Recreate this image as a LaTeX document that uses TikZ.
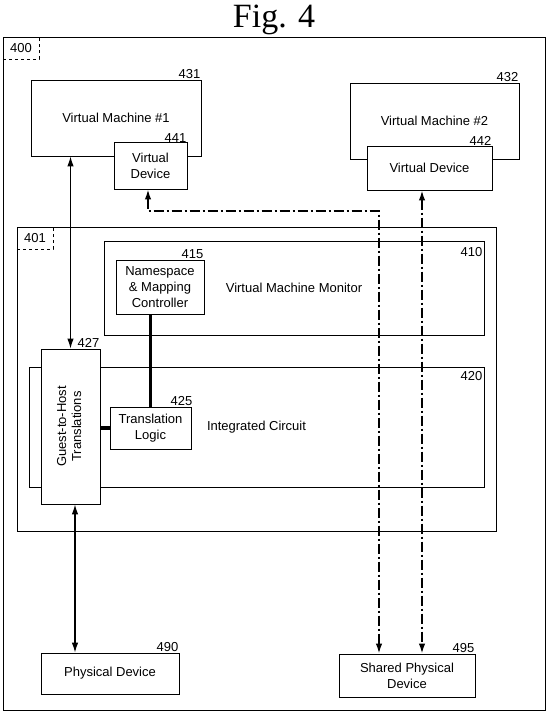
\documentclass[tikz,border=0pt]{standalone}
\usepackage{fontspec}
\setmainfont{Liberation Sans}
\newfontfamily\figfont{Liberation Serif}
\usetikzlibrary{positioning,arrows.meta}

\tikzset{
	blk/.style={draw, fill=white, line width=0.9pt, inner sep=0pt, align=center,
		font=\fontsize{13}{16}\selectfont},
	tag/.style={inner sep=1pt, font=\fontsize{13}{16}\selectfont},
	reftag/.style={draw, dashed, line width=0.9pt, inner sep=0pt, minimum width=36pt,
		minimum height=22pt, font=\fontsize{13}{16}\selectfont},
	link/.style={line width=1.1pt, {Latex[length=10pt,width=6.5pt]}-{Latex[length=10pt,width=6.5pt]}},
	share/.style={line width=1.6pt, dash pattern=on 10pt off 3pt on 2pt off 3pt,
		{Latex[length=10pt,width=6.5pt]}-{Latex[length=10pt,width=6.5pt]}},
	bus/.style={line width=3.2pt},
}

\begin{document}
\begin{tikzpicture}[x=1pt, y=-1pt]
	\useasboundingbox (0,0) rectangle (550,721);
	\node[font=\figfont\fontsize{34}{38}\selectfont, anchor=base] (title) at (274,27) {Fig. 4};

	% system 400
	\node[blk, minimum width=542pt, minimum height=673pt] (sys) at (274,373.5) {};
	\node[reftag, anchor=north west] (t400) at (sys.north west) {400};

	% virtual machines
	\node[blk, minimum width=170pt, minimum height=76pt] (vm1) at (116,118) {Virtual Machine \#1};
	\node[blk, minimum width=73pt, minimum height=47pt] (vd1) at (150.5,165.5) {Virtual\\Device};
	\node[blk, minimum width=169pt, minimum height=76pt] (vm2) at (434.5,121) {Virtual Machine \#2};
	\node[blk, minimum width=125pt, minimum height=44pt] (vd2) at (429.5,168) {Virtual Device};
	\node[tag, above left=0pt of vm1.north east] (l431) {431};
	\node[tag, above left=-2pt and 0pt of vd1.north east] (l441) {441};
	\node[tag, above left=0pt of vm2.north east] (l432) {432};
	\node[tag, above left=-1pt and 0pt of vd2.north east] (l442) {442};

	% host 401
	\node[blk, minimum width=479pt, minimum height=304pt] (host) at (256.5,379) {};
	\node[reftag, anchor=north west] (t401) at (host.north west) {401};
	\node[blk, minimum width=380pt, minimum height=94pt] (vmm) at (294,288) {Virtual Machine Monitor};
	\node[blk, minimum width=88pt, minimum height=54pt] (nmc) at (160,287) {Namespace\\\& Mapping\\Controller};
	\node[blk, minimum width=455pt, minimum height=120pt] (ic) at (256.5,427) {Integrated Circuit};
	\node[blk, minimum width=59pt, minimum height=155pt] (g2h) at (70.5,426.5)
		{\rotatebox{90}{\begin{tabular}{@{}c@{}}Guest-to-Host\\[-1pt]Translations\end{tabular}}};
	\node[blk, minimum width=81pt, minimum height=42pt] (tl) at (150.5,428) {Translation\\Logic};
	\node[tag, below left=6pt and 1pt of vmm.north east] (l410) {410};
	\node[tag, above left=0pt of nmc.north east] (l415) {415};
	\node[tag, below left=4pt and 1pt of ic.north east] (l420) {420};
	\node[tag, above left=0pt of g2h.north east] (l427) {427};
	\node[tag, above left=0pt and -2pt of tl.north east] (l425) {425};

	% devices
	\node[blk, minimum width=138pt, minimum height=41pt] (phys) at (110,673.5) {Physical Device};
	\node[blk, minimum width=136pt, minimum height=43pt] (shared) at (407,675.5) {Shared Physical\\Device};
	\node[tag, above left=0pt and 0pt of phys.north east] (l490) {490};
	\node[tag, above left=0pt of shared.north east] (l495) {495};

	% connections
	\draw[bus] (tl.north |- nmc.south) -- (tl.north);
	\draw[bus] (tl.west -| g2h.east) -- (tl.west);
	\draw[link] (g2h.north |- vm1.south) -- (g2h.north);
	\draw[link] ([xshift=4.5pt]g2h.south) -- ([xshift=4.5pt]g2h.south |- phys.north);
	\coordinate (turn) at (379,211);
	\draw[share] ([xshift=-2.5pt]vd1.south) |- (turn) -- (turn |- shared.north);
	\draw[share] ([xshift=-7.5pt]vd2.south) -- ([xshift=-7.5pt]vd2.south |- shared.north);
\end{tikzpicture}
\end{document}
